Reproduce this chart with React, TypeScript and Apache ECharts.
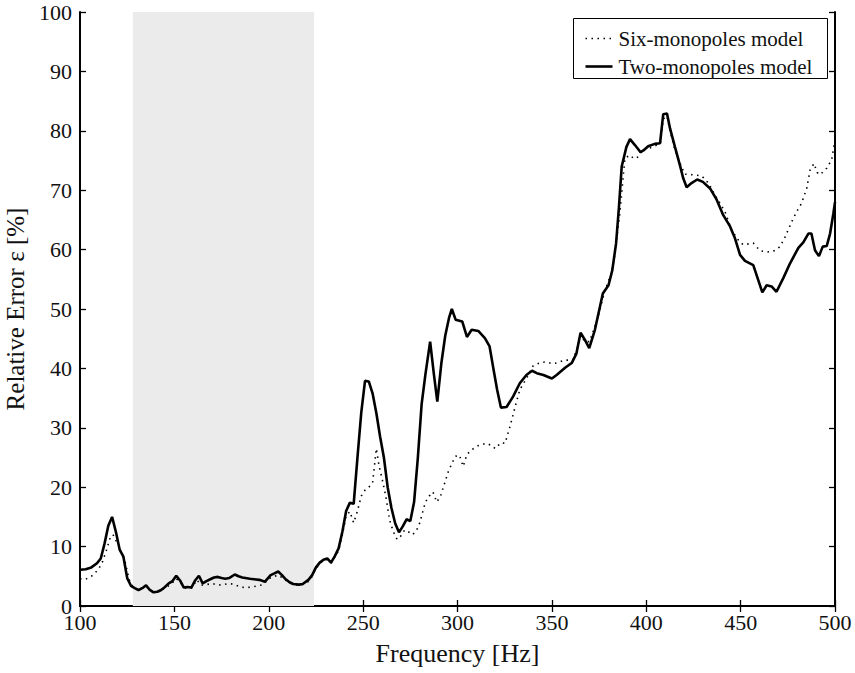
import React, { useEffect, useRef } from "react";
import * as echarts from "echarts";

const xTicks = [100, 150, 200, 250, 300, 350, 400, 450, 500];
const yTicks = [0, 10, 20, 30, 40, 50, 60, 70, 80, 90, 100];
const shadedBand = [128, 224];

const sixName = "Six-monopoles model";
const twoName = "Two-monopoles model";

const twoFreq = [
  100, 103, 106, 109, 111, 113, 115, 117, 119, 121, 123, 125, 127, 129, 131, 133, 135, 137, 139, 141,
  143, 145, 147, 149, 151, 153, 155, 157, 159, 161, 163, 165, 167, 169, 171, 173, 175, 177, 179, 182,
  184, 186, 190, 195, 198, 201, 203, 205, 207, 209, 211, 213, 216, 218, 221, 223, 225, 227, 229, 231,
  233, 235, 237, 239, 241, 243, 245, 247, 249, 251, 253, 255, 257, 259, 261, 263, 265, 267, 269, 271,
  273, 275, 277, 279, 281, 283, 285.5, 287.5, 289.3, 291.5, 293.5, 295.5, 297, 299, 302.5, 305, 307.5,
  311, 314.5, 317, 319, 321, 323, 326, 329.5, 333, 336.5, 339.5, 342, 345.5, 350, 352.5, 357, 360.5,
  363, 365.2, 367.5, 369.8, 372.8, 377, 380, 382, 384, 385.5, 387, 389.5, 391.4, 394, 397, 398.5, 401,
  404.5, 407.3, 409, 411, 412.6, 415.2, 418, 419.6, 421.4, 424, 427, 430, 433.8, 437.3, 440.8, 444.4,
  447, 449.7, 452.3, 456.7, 459.3, 461.5, 463.8, 466.4, 469, 472.6, 476.2, 480.6, 483.2, 485.9, 487.5,
  489.4, 491.5, 493.5, 495.6, 497.4, 499.1, 500,
];
const twoErr = [
  6.1, 6.2, 6.5, 7.2, 8.0, 10.5, 13.5, 15.0, 12.5, 9.5, 8.3, 4.7, 3.4, 3.0, 2.7, 3.0, 3.5, 2.7, 2.3, 2.4,
  2.7, 3.2, 3.8, 4.2, 5.1, 4.3, 3.1, 3.2, 3.1, 4.3, 5.1, 3.8, 4.2, 4.5, 4.8, 4.9, 4.7, 4.6, 4.7, 5.3,
  5.0, 4.8, 4.6, 4.4, 4.1, 5.2, 5.5, 5.8, 5.2, 4.5, 4.0, 3.7, 3.6, 3.7, 4.4, 5.2, 6.5, 7.3, 7.8, 8.0,
  7.3, 8.4, 9.7, 12.5, 16.0, 17.4, 17.2, 25.0, 32.5, 37.9, 37.8, 35.8, 32.5, 28.5, 25.0, 20.0, 16.5, 13.9, 12.4, 13.4,
  14.6, 14.3, 17.5, 25.0, 34.0, 39.0, 44.5, 39.0, 34.4, 41.0, 45.5, 48.5, 50.0, 48.2, 47.9, 45.3, 46.5,
  46.3, 45.1, 43.7, 40.0, 36.4, 33.4, 33.5, 35.3, 37.5, 38.9, 39.6, 39.2, 38.9, 38.3, 38.9, 40.1, 40.9,
  42.5, 46.0, 44.8, 43.4, 46.5, 52.6, 54.0, 56.5, 61.0, 67.0, 74.0, 77.3, 78.6, 77.6, 76.4, 76.7, 77.4,
  77.8, 77.9, 82.8, 82.9, 80.4, 77.3, 74.0, 72.0, 70.5, 71.2, 71.8, 71.4, 70.3, 68.4, 65.8, 63.9,
  61.9, 59.1, 58.1, 57.4, 54.9, 52.8, 54.0, 53.8, 52.9, 55.2, 57.7, 60.3, 61.2, 62.7, 62.7,
  59.9, 58.9, 60.5, 60.6, 62.7, 66.0, 68.0,
];

const sixFreq = [
  100, 103, 107, 110, 112, 114, 116, 117.5, 119, 120.5, 122, 124, 126, 128, 130, 133, 135, 137, 139, 142,
  145, 148, 151, 153, 156, 159, 162, 164, 167, 170, 173, 176, 179, 182, 185, 188, 191, 194, 197, 200,
  203, 205, 207, 210, 213, 217, 221, 223, 225, 228, 231, 233, 235, 237, 239, 241, 243, 245, 247, 249,
  251, 253, 255, 257, 258.5, 260, 262, 264, 266, 268, 270, 272, 274, 276, 278, 280, 283, 285, 287, 289,
  291, 293, 295, 297, 299, 301, 303, 305, 307.5, 311, 315.5, 318, 320, 323, 325.2, 327.8, 330.5, 333,
  336.5, 340, 344, 347, 350, 352.5, 357, 361, 363, 365.2, 367.5, 370, 374.5, 378, 381.5, 383, 386,
  388.7, 391.4, 393.5, 395.8, 397.5, 401, 405, 407.5, 409, 411, 412.6, 415, 418, 420.4, 424.9, 429.4,
  432.9, 436.4, 441.7, 445.2, 448.8, 451.4, 456.7, 460.3, 464, 467.3, 470.9, 473.5, 477.1, 479.7,
  482.3, 485, 486.8, 488.9, 490.5, 492.1, 495.6, 498.2, 500,
];
const sixErr = [
  4.6, 4.5, 5.2, 6.3, 7.5, 9.4, 11.5, 12.0, 11.0, 10.3, 9.0, 7.3, 4.5, 3.2, 2.8, 3.0, 3.3, 2.6, 2.3, 2.5,
  3.0, 3.6, 4.6, 4.0, 3.0, 3.0, 4.4, 3.5, 3.6, 3.8, 3.5, 3.6, 3.8, 3.6, 3.2, 3.1, 3.2, 3.4, 3.6, 4.6,
  5.0, 5.2, 4.8, 4.1, 3.6, 3.5, 4.1, 5.0, 6.3, 7.4, 7.8, 7.2, 8.2, 9.3, 12.0, 15.2, 15.9, 14.0, 16.0, 18.5,
  19.5, 20.0, 20.7, 26.5, 23.5, 21.5, 18.5, 14.5, 12.5, 11.2, 11.8, 12.8, 12.5, 12.0, 12.5, 14.0, 17.5, 18.5, 19.2, 17.5,
  18.5, 20.5, 22.5, 24.0, 25.2, 25.4, 23.5, 25.5, 26.3, 27.0, 27.4, 27.0, 26.5, 27.5, 27.4, 30.2, 33.5, 36.4,
  38.3, 40.4, 41.0, 41.1, 40.8, 40.9, 41.4, 41.4, 43.0, 45.5, 44.5, 44.5, 48.7, 53.0, 56.0, 58.5, 66.1,
  75.4, 75.9, 75.3, 75.6, 76.8, 77.0, 77.5, 78.0, 82.0, 82.5, 80.0, 77.0, 74.5, 72.7, 72.6, 72.4,
  71.2, 69.2, 66.4, 63.3, 61.6, 60.8, 61.1, 59.8, 59.6, 59.7, 60.5, 62.1, 64.7, 66.4,
  67.8, 70.3, 73.4, 74.5, 73.0, 72.6, 73.7, 75.1, 78.5,
];

const FONT = "Liberation Serif";
const DOT = [1.5, 4.5];

export default function App() {
  const ref = useRef<HTMLDivElement>(null);
  useEffect(() => {
    if (!ref.current) return;
    const chart = echarts.init(ref.current, undefined, { renderer: "svg" });
    const xMin = xTicks[0];
    const xMax = xTicks[xTicks.length - 1];
    const yMin = yTicks[0];
    const yMax = yTicks[yTicks.length - 1];
    const xInt = xTicks[1] - xTicks[0];
    const yInt = yTicks[1] - yTicks[0];
    const axisLine = { show: true, lineStyle: { color: "#000", width: 2 } };
    const tick = { show: true, inside: true, length: 6, lineStyle: { color: "#000", width: 1.3 } };
    const label = { color: "#111", fontFamily: FONT, fontSize: 22 };
    const legendText = { fill: "#111", fontFamily: FONT, fontSize: 21, verticalAlign: "middle", align: "left" };
    chart.setOption({
      animation: false,
      backgroundColor: "#fff",
      grid: { left: 80, right: 20, top: 12, bottom: 67, containLabel: false, outerBoundsMode: "none" },
      xAxis: [
        {
          type: "value",
          min: xMin,
          max: xMax,
          interval: xInt,
          position: "bottom",
          name: "Frequency [Hz]",
          nameLocation: "middle",
          nameGap: 34,
          nameTextStyle: { color: "#111", fontFamily: FONT, fontSize: 26 },
          axisLine,
          axisTick: tick,
          axisLabel: { ...label, margin: 5 },
          splitLine: { show: false },
        },
        {
          type: "value",
          min: xMin,
          max: xMax,
          interval: xInt,
          position: "top",
          axisLine,
          axisTick: tick,
          axisLabel: { show: false },
          splitLine: { show: false },
        },
      ],
      yAxis: [
        {
          type: "value",
          min: yMin,
          max: yMax,
          interval: yInt,
          position: "left",
          name: "Relative Error \u03b5 [%]",
          nameLocation: "middle",
          nameGap: 42,
          nameTextStyle: { color: "#111", fontFamily: FONT, fontSize: 25 },
          axisLine,
          axisTick: tick,
          axisLabel: { ...label, margin: 8 },
          splitLine: { show: false },
        },
        {
          type: "value",
          min: yMin,
          max: yMax,
          interval: yInt,
          position: "right",
          axisLine,
          axisTick: tick,
          axisLabel: { show: false },
          splitLine: { show: false },
        },
      ],
      graphic: [
        {
          type: "group",
          left: 573,
          top: 18,
          z: 100,
          children: [
            { type: "rect", shape: { x: 0, y: 0, width: 254, height: 60 }, style: { fill: "#fff", stroke: "#000", lineWidth: 1 } },
            { type: "line", shape: { x1: 12, y1: 20, x2: 39, y2: 20 }, style: { stroke: "#000", lineWidth: 1.6, lineDash: DOT } },
            { type: "text", x: 45, y: 20, style: { text: sixName, ...legendText } },
            { type: "line", shape: { x1: 12, y1: 48, x2: 39, y2: 48 }, style: { stroke: "#000", lineWidth: 2.6 } },
            { type: "text", x: 45, y: 48, style: { text: twoName, ...legendText } },
          ],
        },
      ],
      series: [
        {
          name: sixName,
          type: "line",
          symbol: "none",
          data: sixFreq.map((f, i) => [f, sixErr[i]]),
          lineStyle: { color: "#000", width: 1.6, type: DOT },
          itemStyle: { color: "#000" },
          z: 3,
          markArea: {
            silent: true,
            itemStyle: { color: "#ebebeb" },
            data: [[{ xAxis: shadedBand[0] }, { xAxis: shadedBand[1] }]],
          },
        },
        {
          name: twoName,
          type: "line",
          symbol: "none",
          data: twoFreq.map((f, i) => [f, twoErr[i]]),
          lineStyle: { color: "#000", width: 2.6 },
          itemStyle: { color: "#000" },
          z: 4,
        },
      ],
    });
    return () => chart.dispose();
  }, []);
  return <div ref={ref} style={{ position: "absolute", left: 0, top: 0, width: 855, height: 673 }} />;
}
